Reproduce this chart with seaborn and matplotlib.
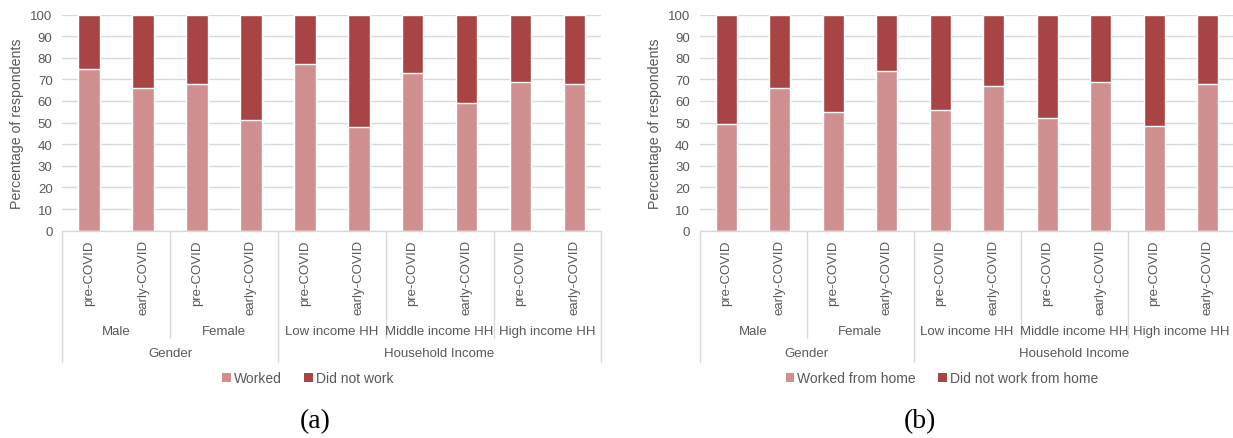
import matplotlib
matplotlib.use("Agg")
import matplotlib.pyplot as plt
import matplotlib.transforms as mtransforms
from matplotlib.lines import Line2D
from matplotlib.patches import Patch
import pandas as pd
import seaborn as sns

# ---- data -------------------------------------------------------------
periods = ["pre-COVID", "early-COVID"]
subgroups = ["Male", "Female", "Low income HH", "Middle income HH", "High income HH"]
groups = ["Gender", "Household Income"]
group_sizes = [2, 3]  # number of subgroups in each group

worked = [75, 66, 68, 51, 77, 48, 73, 59, 69, 68]
did_not_work = [25, 34, 32, 49, 23, 52, 27, 41, 31, 32]

worked_home = [49.5, 66, 55, 74, 56, 67, 52, 69, 48.5, 68]
not_worked_home = [50.5, 34, 45, 26, 44, 33, 48, 31, 51.5, 32]

# ---- style ------------------------------------------------------------
sns.set_theme(style="white")
plt.rcParams["font.family"] = ["Liberation Sans", "DejaVu Sans"]

LIGHT = "#D09090"
DARK = "#A84444"
TEXT = "#595959"
GRID = "#D9D9D9"
FS = 9.5

W, H = 1233, 439
fig = plt.figure(figsize=(W / 100, H / 100), dpi=100)


def px_y(y):
    """Figure fraction from a pixel row measured from the top."""
    return 1 - y / H


def draw_panel(ax, lower, upper, lower_label, upper_label, legend_x, caption, caption_x):
    ids = [f"{s}|{p}" for s in subgroups for p in periods]
    df = pd.DataFrame({
        "bar": ids,
        "lower": lower,
        "total": [a + b for a, b in zip(lower, upper)],
    })
    # stacked bars: full stack in dark, lower share drawn over it
    sns.barplot(data=df, x="bar", y="total", order=ids, color=DARK,
                width=0.4, saturation=1, ax=ax, zorder=2)
    sns.barplot(data=df, x="bar", y="lower", order=ids, color=LIGHT,
                width=0.4, saturation=1, ax=ax, zorder=3)

    ax.set_xlim(-0.5, len(ids) - 0.5)
    ax.set_ylim(0, 100)
    ax.set_yticks(range(0, 101, 10))
    ax.set_xticks([])
    ax.set_xlabel("")
    ax.set_ylabel("Percentage of respondents", fontsize=10.2, color=TEXT)
    width_px = ax.get_position().width * W
    ax.yaxis.set_label_coords(-38 / width_px, 0.5)
    ax.tick_params(axis="y", length=0, pad=7, labelsize=FS, labelcolor=TEXT)
    for s in ax.spines.values():
        s.set_visible(False)
    ax.grid(axis="y", color=GRID, lw=1, zorder=0)
    ax.set_axisbelow(True)

    # multi-level category axis below the plot
    trans = mtransforms.blended_transform_factory(ax.transData, fig.transFigure)
    y_axis = 231.7
    ax.add_line(Line2D([-0.5, len(ids) - 0.5], [px_y(y_axis)] * 2, transform=trans,
                       color=GRID, lw=1, clip_on=False, zorder=4))
    for i, label in enumerate(periods * len(subgroups)):
        ax.text(i, px_y(240), label, transform=trans, rotation=90, ha="center",
                va="top", fontsize=FS, color=TEXT)
    for j, name in enumerate(subgroups):
        ax.text(2 * j + 0.5, px_y(332), name, transform=trans, ha="center",
                va="center", fontsize=FS, color=TEXT)
    outer = [-0.5]
    start = 0
    for g, n in zip(groups, group_sizes):
        ax.text(2 * start + n - 0.5, px_y(354), g, transform=trans, ha="center",
                va="center", fontsize=FS, color=TEXT)
        start += n
        outer.append(2 * start - 0.5)
    for k in range(len(subgroups) + 1):
        xb = 2 * k - 0.5
        bottom = 363 if xb in outer else 339
        ax.add_line(Line2D([xb, xb], [px_y(y_axis), px_y(bottom)], transform=trans,
                           color=GRID, lw=1, clip_on=False))

    handles = [Patch(facecolor=LIGHT, edgecolor="none", label=lower_label),
               Patch(facecolor=DARK, edgecolor="none", label=upper_label)]
    fig.legend(handles=handles, loc="center", bbox_to_anchor=(legend_x / W, px_y(379.5)),
               ncol=2, frameon=False, fontsize=10, labelcolor=TEXT,
               handlelength=0.6, handleheight=0.6, handletextpad=0.25,
               columnspacing=1.6)

    fig.text(caption_x / W, px_y(422), caption, ha="center", va="center",
             fontsize=20, family=["Liberation Serif", "DejaVu Serif"], color="black")


ax_a = fig.add_axes([62.3 / W, px_y(231.7), 539 / W, 216.2 / H])
ax_b = fig.add_axes([699.5 / W, px_y(231.7), 535 / W, 216.2 / H])

draw_panel(ax_a, worked, did_not_work, "Worked", "Did not work", 308, "(a)", 315)
draw_panel(ax_b, worked_home, not_worked_home, "Worked from home",
           "Did not work from home", 942, "(b)", 920)

fig.savefig("out.png", dpi=100, facecolor="white")
